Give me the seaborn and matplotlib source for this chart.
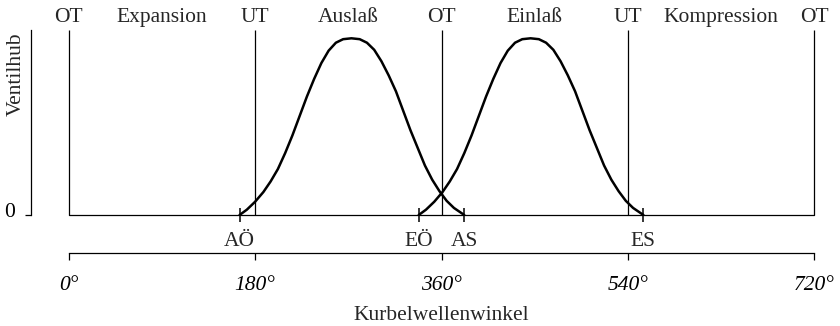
import matplotlib
matplotlib.use("Agg")
import matplotlib.pyplot as plt
import matplotlib.transforms as mtransforms
import seaborn as sns
import pandas as pd

# ---- data ----
exhaust_angle = [165, 172, 180, 188, 195, 202, 209, 216, 223, 230, 237, 244, 251, 258,
                 265, 273, 281, 288, 295, 302, 309, 316, 323, 330, 337, 344, 351, 358,
                 365, 372, 382]
exhaust_lift = [0.0, 0.03, 0.075, 0.13, 0.19, 0.26, 0.35, 0.45, 0.56, 0.67, 0.77, 0.86,
                0.93, 0.975, 0.995, 1.0, 0.995, 0.975, 0.935, 0.87, 0.79, 0.70, 0.59,
                0.48, 0.38, 0.28, 0.20, 0.135, 0.08, 0.04, 0.0]
intake_angle = [338, 345, 353, 361, 368, 375, 382, 389, 396, 403, 410, 417, 424, 431,
                438, 446, 454, 461, 468, 475, 482, 489, 496, 503, 510, 517, 524, 531,
                538, 545, 555]
intake_lift = [0.0, 0.03, 0.075, 0.13, 0.19, 0.26, 0.35, 0.45, 0.56, 0.67, 0.77, 0.86,
               0.93, 0.975, 0.995, 1.0, 0.995, 0.975, 0.935, 0.87, 0.79, 0.70, 0.59,
               0.48, 0.38, 0.28, 0.20, 0.135, 0.08, 0.04, 0.0]

dead_center_angles = [0, 180, 360, 540, 720]
dead_center_labels = ["OT", "UT", "OT", "UT", "OT"]
stroke_angles = [90, 270, 450, 630]
stroke_labels = ["Expansion", "Auslaß", "Einlaß", "Kompression"]
event_angles = [165, 338, 382, 555]
event_labels = ["AÖ", "EÖ", "AS", "ES"]
tick_angles = [0, 180, 360, 540, 720]
tick_labels = ["0°", "180°", "360°", "540°", "720°"]

# ---- style ----
sns.set_style("ticks")
plt.rcParams["font.family"] = ["Liberation Serif", "DejaVu Serif"]
plt.rcParams["font.size"] = 15.5

W, H = 840, 326
fig = plt.figure(figsize=(W / 100, H / 100), dpi=100)
x0, x1 = 68.7, 814.3
ybase, ytop = 215.0, 30.0
ax = fig.add_axes([x0 / W, (H - ybase) / H, (x1 - x0) / W, (ybase - ytop) / H])
fig.patch.set_facecolor("white")
ax.set_facecolor("white")

ymax = (ybase - ytop) / 176.7
ax.set_xlim(0, 720)
ax.set_ylim(0, ymax)

# reference lines
ax.axhline(0, color="black", lw=0.9, zorder=1, clip_on=False)
ax.vlines(dead_center_angles, 0, ymax, color="black", lw=0.9, zorder=1, clip_on=False)

# curves
df_ex = pd.DataFrame({"angle": exhaust_angle, "lift": exhaust_lift})
df_in = pd.DataFrame({"angle": intake_angle, "lift": intake_lift})
sns.lineplot(data=df_ex, x="angle", y="lift", sort=False, color="black", lw=1.8, ax=ax)
sns.lineplot(data=df_in, x="angle", y="lift", sort=False, color="black", lw=1.8, ax=ax)

# event markers
ax.plot(event_angles, [0] * len(event_angles), linestyle="none", marker="|",
        markersize=10, markeredgewidth=1.1, color="black", clip_on=False, zorder=3)

trans = mtransforms.blended_transform_factory(ax.transData, ax.transAxes)
px = 1.0 / (ybase - ytop)  # one pixel in axes units (vertical)
for a, lab in zip(event_angles, event_labels):
    ax.text(a, -(242 - ybase) * px, lab, transform=trans, ha="center", va="center",
            fontsize=15.5)
for a, lab in zip(dead_center_angles, dead_center_labels):
    ax.text(a, (ybase - 17.5) * px, lab, transform=trans, ha="center", va="center",
            fontsize=15.5, clip_on=False)
for a, lab in zip(stroke_angles, stroke_labels):
    ax.text(a, (ybase - 17.5) * px, lab, transform=trans, ha="center", va="center",
            fontsize=15.5, clip_on=False)

# axes / spines
for s in ["top", "right"]:
    ax.spines[s].set_visible(False)
ax.spines["bottom"].set_position(("outward", 38 * 0.72))
ax.spines["left"].set_position(("outward", (x0 - 31) * 0.72))
ax.spines["bottom"].set_bounds(0, 720)
ax.spines["left"].set_bounds(0, ymax)
for s in ["bottom", "left"]:
    ax.spines[s].set_linewidth(0.9)
    ax.spines[s].set_color("black")

ax.set_xticks(tick_angles)
ax.set_xticklabels(tick_labels, fontstyle="italic", fontsize=15.5)
ax.set_yticks([0])
ax.set_yticklabels(["0"], fontsize=15.5)
ax.tick_params(axis="x", direction="out", length=5, width=0.9, pad=11.5, colors="black")
ax.tick_params(axis="y", direction="out", length=4.3, width=0.9, pad=7, colors="black")
for lbl in ax.get_yticklabels():
    lbl.set_transform(lbl.get_transform() + mtransforms.ScaledTranslation(0, 5 / 100, fig.dpi_scale_trans))

ax.set_xlabel("Kurbelwellenwinkel", fontsize=15.5, labelpad=8)
ax.set_ylabel("")
fig.text(16 / W, 1 - 74 / H, "Ventilhub", rotation=90, ha="center", va="center",
         fontsize=15.5)

fig.savefig("out.png", dpi=100, facecolor="white")
